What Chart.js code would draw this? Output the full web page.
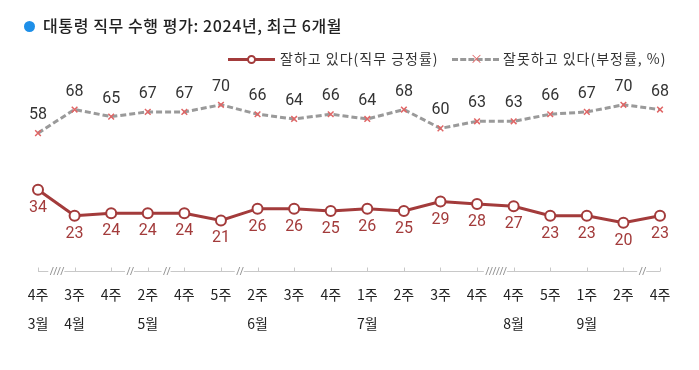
<!DOCTYPE html>
<html>
<head>
<meta charset="utf-8">
<script src="https://cdn.jsdelivr.net/npm/chart.js@4"></script>
<style>
    html, body { margin: 0; padding: 0; background: #fff; }
    #wrap { position: relative; width: 699px; height: 370px; overflow: hidden; }
    #chart { position: absolute; left: 0; top: 0; }
    .title { position: absolute; left: 24px; top: 13px; font: 500 16px "Noto Sans CJK KR", "Noto Sans", sans-serif; letter-spacing: 0.6px; color: #222; white-space: nowrap; }
    .title .dot { display: inline-block; width: 11px; height: 11px; border-radius: 50%; background: #1e8fe8; margin-right: 8px; vertical-align: 0px; }
    .legend { position: absolute; top: 48px; font: 14px "Noto Sans CJK KR", sans-serif; letter-spacing: 1px; color: #333; white-space: nowrap; }
    .sample { position: absolute; top: 10px; height: 0; }
</style>
</head>
<body>
<div id="wrap">
    <canvas id="chart" width="699" height="370"></canvas>
    <div class="title"><span class="dot"></span>대통령 직무 수행 평가: 2024년, 최근 6개월</div>
    <div class="legend" style="left:228px;">
        <span class="sample" style="left:0; width:47px; border-top:3px solid #a33b3b;"></span>
        <span class="sample" style="left:19px; top:7px; width:5px; height:5px; border:2px solid #a33b3b; border-radius:50%; background:#fff;"></span>
        <span style="margin-left:52px;">잘하고 있다(직무 긍정률)</span>
    </div>
    <div class="legend" style="left:452px;">
        <span class="sample" style="left:0; width:47px; border-top:3px dashed #999;"></span>
        <span class="sample" style="left:18px; top:1px; color:#e06666; font-size:13px; line-height:18px; background:#fff; letter-spacing:0;">×</span>
        <span style="margin-left:51px;">잘못하고 있다(부정률, %)</span>
    </div>
</div>

<script>
// 주차 / 월 라벨
const weeks = ["4주", "3주", "4주", "2주", "4주", "5주", "2주", "3주", "4주", "1주", "2주", "3주", "4주", "4주", "5주", "1주", "2주", "4주"];
const months = ["3월", "4월", "", "5월", "", "", "6월", "", "", "7월", "", "", "", "8월", "", "9월", "", ""];

const approve = [34, 23, 24, 24, 24, 21, 26, 26, 25, 26, 25, 29, 28, 27, 23, 23, 20, 23];
const disapprove = [58, 68, 65, 67, 67, 70, 66, 64, 66, 64, 68, 60, 63, 63, 66, 67, 70, 68];

// 축 끊김 표시 (사이 위치, 빗금 수)
const breaks = [[0.5, 4], [2.5, 2], [3.5, 2], [5.5, 2], [12.5, 6], [16.5, 2]];

const labels = weeks.map((w, i) => [w, months[i]]);

// ====================== PLUGINS ======================

const valueLabels = {
    id: "valueLabels",
    afterDatasetsDraw(chart) {
        const ctx = chart.ctx;
        ctx.save();
        ctx.font = "16px Roboto, 'Noto Sans', sans-serif";
        ctx.textAlign = "center";
        ctx.textBaseline = "middle";
        chart.data.datasets.forEach((ds, i) => {
            const meta = chart.getDatasetMeta(i);
            ctx.fillStyle = ds.labelColor;
            meta.data.forEach((pt, j) => {
                ctx.fillText(ds.data[j], pt.x, pt.y + ds.labelOffset);
            });
        });
        ctx.restore();
    }
};

const axisDeco = {
    id: "axisDeco",
    beforeDatasetsDraw(chart) {
        const ctx = chart.ctx;
        const x = chart.scales.x;
        const y = chart.chartArea.bottom + 1;
        ctx.save();
        ctx.strokeStyle = "#c8c8c8";
        ctx.lineWidth = 1;
        ctx.beginPath();
        ctx.moveTo(x.getPixelForValue(0), y + 0.5);
        ctx.lineTo(x.getPixelForValue(weeks.length - 1), y + 0.5);
        for (let i = 0; i < weeks.length; i++) {
            const px = Math.round(x.getPixelForValue(i)) + 0.5;
            ctx.moveTo(px, y + 0.5);
            ctx.lineTo(px, y - 3.5);
        }
        ctx.stroke();

        ctx.strokeStyle = "#999";
        breaks.forEach(([pos, n]) => {
            const cx = x.getPixelForValue(pos);
            const w = n * 3.5;
            ctx.fillStyle = "#fff";
            ctx.fillRect(cx - w / 2 - 1, y - 5, w + 2, 10);
            ctx.beginPath();
            for (let k = 0; k < n; k++) {
                const sx = cx - w / 2 + k * 3.5 + 1;
                ctx.moveTo(sx, y + 4);
                ctx.lineTo(sx + 3, y - 4);
            }
            ctx.stroke();
        });
        ctx.restore();
    }
};

// ====================== CHART ======================

new Chart(document.getElementById("chart"), {
    type: "line",
    data: {
        labels: labels,
        datasets: [
            {
                label: "잘하고 있다(직무 긍정률)",
                data: approve,
                borderColor: "#a33b3b",
                borderWidth: 3,
                pointStyle: "circle",
                pointRadius: 5,
                pointBorderWidth: 2,
                pointBackgroundColor: "#fff",
                pointBorderColor: "#a33b3b",
                tension: 0,
                labelColor: "#a33b3b",
                labelOffset: 18
            },
            {
                label: "잘못하고 있다(부정률, %)",
                data: disapprove,
                borderColor: "#9a9a9a",
                borderWidth: 3,
                borderDash: [6, 3],
                pointStyle: "crossRot",
                pointRadius: 4,
                pointBorderWidth: 1.5,
                pointBorderColor: "#e06666",
                tension: 0,
                labelColor: "#333",
                labelOffset: -18
            }
        ]
    },
    options: {
        responsive: false,
        animation: false,
        layout: { padding: { top: 34, left: 38, right: 39, bottom: 0 } },
        plugins: {
            legend: { display: false },
            tooltip: { enabled: false }
        },
        scales: {
            x: {
                offset: false,
                grid: { display: false, drawTicks: false },
                border: { display: false },
                ticks: {
                    color: "#222",
                    padding: 10,
                    maxRotation: 0,
                    autoSkip: false,
                    font: { family: "'Noto Sans CJK KR', sans-serif", size: 14, lineHeight: "29px" }
                },
                afterFit(scale) { scale.height = 100; }
            },
            y: {
                display: false,
                min: 0,
                max: 100
            }
        }
    },
    plugins: [axisDeco, valueLabels]
});
</script>
</body>
</html>
